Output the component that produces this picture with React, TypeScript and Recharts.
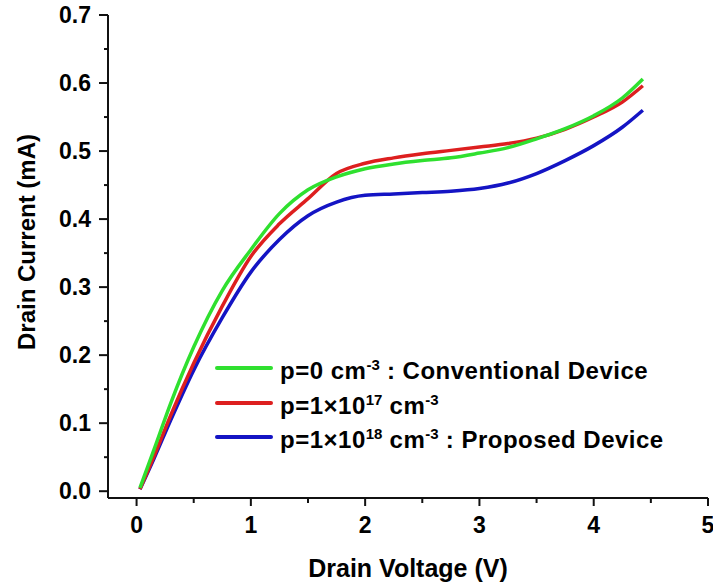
import React from 'react';
import { LineChart, Line, XAxis, YAxis } from 'recharts';

// ─── Data ────────────────────────────────────────────────────────────────────

const voltage = [0.03, 0.15, 0.3, 0.5, 0.75, 1.0, 1.25, 1.5, 1.75, 2.0, 2.25, 2.5, 2.75, 3.0, 3.25, 3.5, 3.75, 4.0, 4.25, 4.43];

// p = 0 cm^-3 : conventional device
const currentConv = [0.005, 0.06, 0.13, 0.212, 0.295, 0.355, 0.408, 0.443, 0.462, 0.474, 0.481, 0.486, 0.49, 0.497, 0.505, 0.518, 0.533, 0.552, 0.578, 0.606];
// p = 1e17 cm^-3
const current17 = [0.003, 0.05, 0.112, 0.188, 0.272, 0.345, 0.393, 0.43, 0.467, 0.482, 0.49, 0.496, 0.501, 0.506, 0.511, 0.519, 0.532, 0.55, 0.572, 0.596];
// p = 1e18 cm^-3 : proposed device
const current18 = [0.003, 0.047, 0.105, 0.178, 0.255, 0.322, 0.37, 0.405, 0.425, 0.435, 0.437, 0.439, 0.441, 0.445, 0.453, 0.467, 0.486, 0.508, 0.535, 0.56];

const xTicks = [0, 0.5, 1, 1.5, 2, 2.5, 3, 3.5, 4, 4.5, 5];
const yTicks = [0, 0.05, 0.1, 0.15, 0.2, 0.25, 0.3, 0.35, 0.4, 0.45, 0.5, 0.55, 0.6, 0.65, 0.7];

const rows = voltage.map((v, i) => ({
  v,
  conv: currentConv[i],
  p17: current17[i],
  p18: current18[i],
}));

// ─── Styles ──────────────────────────────────────────────────────────────────

const FONT = "'Liberation Sans', Arial, sans-serif";
const GREEN = '#2fe02f';
const RED = '#dd1f1f';
const BLUE = '#1414c4';
const AXIS = '#111';
const FRAME = '#666';

const isMajor = (v: number, step: number) => Math.abs(v / step - Math.round(v / step)) < 1e-6;

// ─── Custom ticks ────────────────────────────────────────────────────────────

const BottomTick = (props: any) => {
  const { x, y, payload } = props;
  const major = isMajor(payload.value, 1);
  return (
    <g>
      <line x1={x} x2={x} y1={y} y2={y + (major ? 8 : 5)} stroke={AXIS} strokeWidth={2} />
      {major && (
        <text x={x} y={y + 35} textAnchor="middle" fontFamily={FONT} fontWeight={700} fontSize={23} fill="#000">
          {payload.value}
        </text>
      )}
    </g>
  );
};

const TopTick = (props: any) => {
  const { x, y, payload } = props;
  const major = isMajor(payload.value, 1);
  return <line x1={x} x2={x} y1={y} y2={y + (major ? 9 : 4)} stroke={AXIS} strokeWidth={2} />;
};

const LeftTick = (props: any) => {
  const { x, y, payload } = props;
  const major = isMajor(payload.value, 0.1);
  return (
    <g>
      <line x1={x} x2={x - (major ? 9 : 4)} y1={y} y2={y} stroke={AXIS} strokeWidth={2} />
      {major && (
        <text x={x - 17} y={y + 8} textAnchor="end" fontFamily={FONT} fontWeight={700} fontSize={23} fill="#000">
          {payload.value.toFixed(1)}
        </text>
      )}
    </g>
  );
};

const RightTick = (props: any) => {
  const { x, y, payload } = props;
  const major = isMajor(payload.value, 0.1);
  return <line x1={x} x2={x - (major ? 8 : 4)} y1={y} y2={y} stroke={AXIS} strokeWidth={2} />;
};

// ─── Legend ──────────────────────────────────────────────────────────────────

const supStyle = { fontSize: 15, letterSpacing: 0 };

const legendItems = [
  { color: GREEN, label: (<>p=0 cm<sup style={supStyle}>-3</sup> : Conventional Device</>) },
  { color: RED, label: (<>p=1×10<sup style={supStyle}>17</sup> cm<sup style={supStyle}>-3</sup></>) },
  { color: BLUE, label: (<>p=1×10<sup style={supStyle}>18</sup> cm<sup style={supStyle}>-3</sup> : Proposed Device</>) },
];

const Legend = () => (
  <div style={{ position: 'absolute', left: 215, top: 351, fontFamily: FONT, fontWeight: 700, fontSize: 24, letterSpacing: 0.5, color: '#000' }}>
    {legendItems.map((it, i) => (
      <div key={i} style={{ display: 'flex', alignItems: 'center', height: 34.5, whiteSpace: 'nowrap', lineHeight: '24px' }}>
        <div style={{ width: 58, height: 4, background: it.color, borderRadius: 2, marginRight: 7 }} />
        <span>{it.label}</span>
      </div>
    ))}
  </div>
);

// ─── Chart ───────────────────────────────────────────────────────────────────

export default function App() {
  return (
    <div style={{ position: 'absolute', left: 0, top: 0, width: 713, height: 588, background: '#fff' }}>
      <LineChart width={713} height={588} data={rows} margin={{ top: 15, right: 5, bottom: 0, left: 0 }}>
        <XAxis
          dataKey="v"
          type="number"
          domain={[-0.25, 5]}
          ticks={xTicks}
          interval={0}
          allowDataOverflow
          height={90}
          tickSize={0}
          tickMargin={0}
          tickLine={false}
          tick={<BottomTick />}
          axisLine={{ stroke: AXIS, strokeWidth: 2 }}
          label={{ value: 'Drain Voltage (V)', position: 'insideBottom', offset: 11, fontFamily: FONT, fontWeight: 700, fontSize: 25, fill: '#000' }}
        />
        <XAxis
          xAxisId="top"
          orientation="top"
          dataKey="v"
          type="number"
          domain={[-0.25, 5]}
          ticks={xTicks}
          interval={0}
          allowDataOverflow
          height={0}
          tickSize={0}
          tickMargin={0}
          tickLine={false}
          tick={<TopTick />}
          axisLine={{ stroke: FRAME, strokeWidth: 2 }}
        />
        <YAxis
          type="number"
          domain={[-0.01, 0.7]}
          ticks={yTicks}
          interval={0}
          allowDataOverflow
          width={108}
          tickSize={0}
          tickMargin={0}
          tickLine={false}
          tick={<LeftTick />}
          axisLine={{ stroke: AXIS, strokeWidth: 2 }}
          label={{
            content: () => (
              <text
                x={0}
                y={0}
                transform="translate(35 242) rotate(-90)"
                textAnchor="middle"
                fontFamily={FONT}
                fontWeight={700}
                fontSize={24}
                fill="#000"
              >
                Drain Current (mA)
              </text>
            ),
          }}
        />
        <YAxis
          yAxisId="right"
          orientation="right"
          type="number"
          domain={[-0.01, 0.7]}
          ticks={yTicks}
          interval={0}
          allowDataOverflow
          width={0}
          tickSize={0}
          tickMargin={0}
          tickLine={false}
          tick={<RightTick />}
          axisLine={{ stroke: FRAME, strokeWidth: 2 }}
        />
        <Line dataKey="p18" type="monotone" stroke={BLUE} strokeWidth={3.5} dot={false} isAnimationActive={false} />
        <Line dataKey="p17" type="monotone" stroke={RED} strokeWidth={3.5} dot={false} isAnimationActive={false} />
        <Line dataKey="conv" type="monotone" stroke={GREEN} strokeWidth={3.5} dot={false} isAnimationActive={false} />
      </LineChart>
      <Legend />
    </div>
  );
}
